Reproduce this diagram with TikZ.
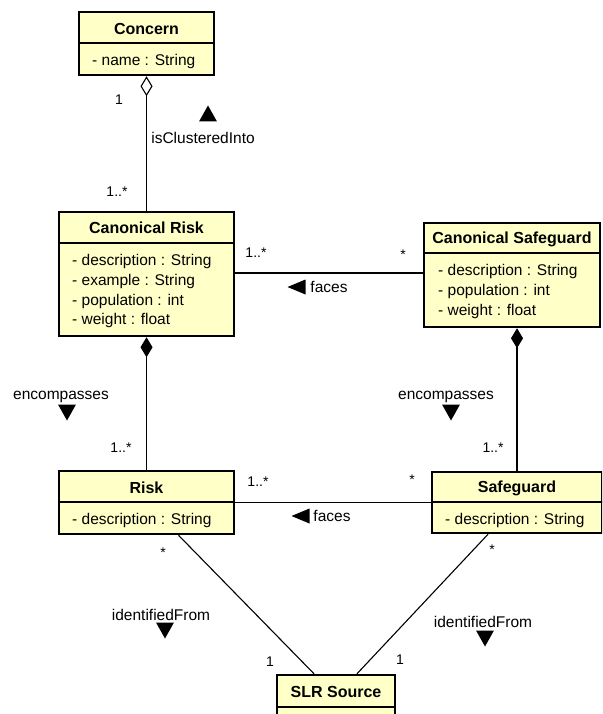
\documentclass[tikz,border=0pt]{standalone}
\usepackage{fontspec}
\setmainfont{Liberation Sans}
\usetikzlibrary{arrows.meta,calc}
\definecolor{classfill}{RGB}{255,255,200}
\begin{document}
\begin{tikzpicture}[x=1pt,y=-1pt,
  font=\fontsize{15.5}{18}\selectfont,
  classbox/.style 2 args={draw=black,line width=2.5pt,fill=classfill,minimum width=#1,minimum height=#2,inner sep=0pt},
  sepline/.style={line width=1.4pt},
  hdr/.style={font=\fontsize{16}{19}\selectfont\bfseries,inner sep=0pt},
  attr/.style={anchor=west,inner sep=0pt},
  lbl/.style={inner sep=0pt},
  mult/.style={inner sep=0pt,font=\fontsize{14}{17}\selectfont},
  conn/.style={line width=1.1pt},
  hollowdia/.style={{Diamond[open,fill=white,length=20pt,width=12pt]}-},
  filldia/.style={{Diamond[length=20pt,width=12pt]}-},
  tridown/.pic={\fill (-9,-7.5) -- (9,-7.5) -- (0,8.5) -- cycle;},
  triup/.pic={\fill (-9,7.5) -- (9,7.5) -- (0,-8.5) -- cycle;},
  trileft/.pic={\fill (8.5,-7.5) -- (8.5,7.5) -- (-9.5,0) -- cycle;}
]
\useasboundingbox (0,0) rectangle (602,714);
\clip (0,0) rectangle (602,714);

% class boxes
\node[classbox={135}{63}] (concern) at (146.5,43.5) {};
\node[classbox={175}{124}] (cr) at (146.5,274) {};
\node[classbox={176}{104}] (cs) at (512,275) {};
\node[classbox={175}{63}] (risk) at (146.5,502.5) {};
\node[classbox={170}{61}] (sg) at (517,502.5) {};
\node[classbox={118}{64}] (slr) at (336,707) {};

% header separators
\draw[sepline] (concern.west |- 0,43) -- (concern.east |- 0,43);
\draw[sepline] (cr.west |- 0,243) -- (cr.east |- 0,243);
\draw[sepline] (cs.west |- 0,253) -- (cs.east |- 0,253);
\draw[sepline] (risk.west |- 0,502) -- (risk.east |- 0,502);
\draw[sepline] (sg.west |- 0,502) -- (sg.east |- 0,502);
\draw[sepline] (slr.west |- 0,707) -- (slr.east |- 0,707);

% headers
\node[hdr] (concernH) at (146.5,29) {Concern};
\node[hdr] (crH) at (146.5,228) {Canonical Risk};
\node[hdr] (csH) at (512,239) {Canonical Safeguard};
\node[hdr] (riskH) at (146.5,488) {Risk};
\node[hdr] (sgH) at (517,488) {Safeguard};
\node[hdr] (slrH) at (336,692) {SLR Source};

% attributes
\node[attr] (concernA1) at (92,61) {- name : String};
\node[attr] (crA1) at (72,261) {- description : String};
\node[attr] (crA2) at (72,281) {- example : String};
\node[attr] (crA3) at (72,301) {- population : int};
\node[attr] (crA4) at (72,320) {- weight : float};
\node[attr] (csA1) at (438,271) {- description : String};
\node[attr] (csA2) at (438,291) {- population : int};
\node[attr] (csA3) at (438,311) {- weight : float};
\node[attr] (riskA1) at (72,520) {- description : String};
\node[attr] (sgA1) at (445,520) {- description : String};

% connectors
\draw[conn,hollowdia] (concern.south) -- (cr.north);
\draw[conn,filldia] (cr.south) -- (risk.north);
\draw[conn,filldia] (sg.north |- cs.south) -- (sg.north);
\draw[conn] ($(cs.west)+(0,-2)$) -- ($(cs.west -| cr.east)+(0,-2)$);
\draw[conn] (risk.east) -- (sg.west |- risk.east);
\draw[conn] ($(risk.south)+(32,0)$) -- ($(slr.north)+(-22,0)$);
\draw[conn] ($(sg.south)+(-29,0)$) -- ($(slr.north)+(21,0)$);

% direction triangles
\pic at (208,114) {triup};
\pic at (297,287) {trileft};
\pic at (301,516) {trileft};
\pic at (67,412) {tridown};
\pic at (451,412) {tridown};
\pic at (165,630) {tridown};
\pic at (485,638) {tridown};

% labels
\node[mult] (m1) at (119,100) {1};
\node[mult] (m2) at (117,192) {1..*};
\node[lbl] (l1) at (203,138) {isClusteredInto};
\node[mult] (m3) at (256,253) {1..*};
\node[mult] (m4) at (403,255) {*};
\node[lbl] (l2) at (329,287) {faces};
\node[lbl] (l3) at (61,397) {encompasses};
\node[mult] (m5) at (121,448) {1..*};
\node[lbl] (l4) at (446,397) {encompasses};
\node[mult] (m6) at (493,448) {1..*};
\node[mult] (m7) at (258,482) {1..*};
\node[mult] (m8) at (412,480) {*};
\node[lbl] (l5) at (332,516) {faces};
\node[mult] (m9) at (163,553) {*};
\node[lbl] (l6) at (161,615) {identifiedFrom};
\node[mult] (m10) at (270,662) {1};
\node[mult] (m11) at (492,550) {*};
\node[lbl] (l7) at (483,622) {identifiedFrom};
\node[mult] (m12) at (400,660) {1};
\end{tikzpicture}
\end{document}
